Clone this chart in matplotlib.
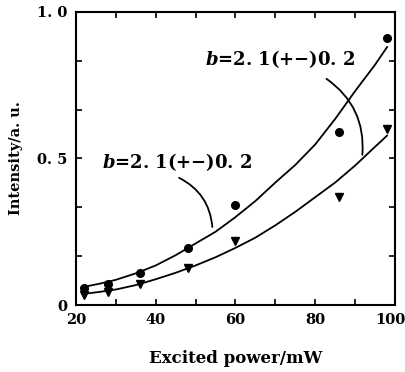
import numpy as np
import matplotlib
matplotlib.use("Agg")
import matplotlib.pyplot as plt
import matplotlib.transforms as mtransforms

plt.rcParams["font.family"] = ["DejaVu Serif"]
plt.rcParams["mathtext.fontset"] = "custom"
plt.rcParams["mathtext.it"] = "DejaVu Serif:italic:bold"
plt.rcParams["mathtext.rm"] = "DejaVu Serif:bold"

# measured points
power = [22, 28, 36, 48, 60, 86, 98]
upper_pts = [0.058, 0.072, 0.11, 0.195, 0.34, 0.59, 0.91]
lower_pts = [0.034, 0.044, 0.072, 0.127, 0.22, 0.37, 0.60]

# fitted curves
fit_x = [22, 26, 30, 35, 40, 45, 50, 55, 60, 65, 70, 75, 80, 85, 90, 95, 98]
upper_fit = [0.062, 0.073, 0.086, 0.108, 0.135, 0.17, 0.21, 0.25, 0.30,
             0.355, 0.418, 0.478, 0.548, 0.635, 0.73, 0.82, 0.88]
lower_fit = [0.038, 0.045, 0.053, 0.068, 0.088, 0.11, 0.135, 0.163, 0.195,
             0.23, 0.272, 0.318, 0.368, 0.418, 0.476, 0.54, 0.578]

label = r"$b$=2. 1(+$-$)0. 2"

fig = plt.figure(figsize=(4.06, 3.72), dpi=100)
ax = fig.add_axes([0.187, 0.180, 0.786, 0.788])

ax.plot(fit_x, upper_fit, color="black", lw=1.3)
ax.plot(fit_x, lower_fit, color="black", lw=1.3)
ax.plot(power, upper_pts, "o", color="black", ms=5.5)
ax.plot(power, lower_pts, "v", color="black", ms=6)

ax.text(52.3, 0.84, label, fontsize=13, fontweight="bold", va="center")
ax.text(26.5, 0.486, label, fontsize=13, fontweight="bold", va="center")

ax.annotate("", xy=(91.75, 0.503), xytext=(82.25, 0.777),
            arrowprops=dict(arrowstyle="-", color="black", lw=1.3,
                            connectionstyle="arc3,rad=-0.3"))
ax.annotate("", xy=(54.25, 0.257), xytext=(45.25, 0.438),
            arrowprops=dict(arrowstyle="-", color="black", lw=1.3,
                            connectionstyle="arc3,rad=-0.3"))

ax.set_xlim(20, 100)
ax.set_ylim(0, 1.0)
ax.set_xticks([20, 40, 60, 80, 100])
ax.set_xticks([30, 50, 70, 90], minor=True)
ax.set_yticks([0, 0.5, 1.0])
ax.set_yticklabels(["0", "0. 5", "1. 0"])
ax.set_yticks([1/6, 2/6, 4/6, 5/6], minor=True)
ax.tick_params(which="both", direction="in", top=True, right=True,
               length=4, width=1.2, labelsize=10.5, pad=6)
for t in ax.get_xticklabels() + ax.get_yticklabels():
    t.set_fontweight("bold")
last = ax.get_xticklabels()[-1]
last.set_transform(last.get_transform() +
                   mtransforms.ScaledTranslation(-5/100, 0, fig.dpi_scale_trans))
for s in ax.spines.values():
    s.set_linewidth(1.5)

ax.set_xlabel("Excited power/mW", fontsize=12, fontweight="bold", labelpad=16)
ax.set_ylabel("Intensity/a. u.", fontsize=10.5, fontweight="bold", labelpad=10)

fig.savefig("out.png", dpi=100)
